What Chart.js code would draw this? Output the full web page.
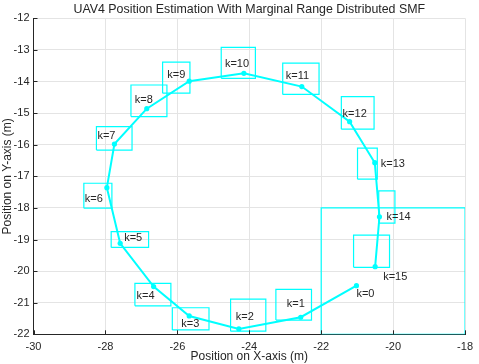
<!DOCTYPE html>
<html>
<head>
<meta charset="utf-8">
<script src="https://cdn.jsdelivr.net/npm/chart.js@4.4.0/dist/chart.umd.min.js"></script>
<style>
  html, body { margin: 0; padding: 0; background: #fff; }
  #wrap { width: 479px; height: 364px; }
</style>
</head>
<body>
<div id="wrap"><canvas id="c"></canvas></div>
<script>
// estimated positions for each step k = 0..15
const steps = [0, 1, 2, 3, 4, 5, 6, 7, 8, 9, 10, 11, 12, 13, 14, 15];
const posX = [-21.02, -22.57, -24.29, -25.67, -26.66, -27.59, -27.96, -27.75, -26.85, -25.67, -24.15, -22.54, -21.21, -20.51, -20.38, -20.50];
const posY = [-20.46, -21.46, -21.83, -21.42, -20.49, -19.12, -17.36, -15.98, -14.86, -13.99, -13.74, -14.16, -15.27, -16.57, -18.28, -19.86];

// range boxes around each estimate
const boxLeft   = [-22, -23.26, -24.52, -26.14, -27.18, -27.84, -28.60, -28.25, -27.29, -26.41, -24.78, -23.07, -21.44, -20.99, -20.40, -21.10];
const boxRight  = [-18, -22.27, -23.54, -25.12, -26.18, -26.80, -27.82, -27.26, -26.29, -25.65, -23.83, -22.06, -20.53, -20.44, -19.95, -20.10];
const boxTop    = [-18, -20.58, -20.89, -21.16, -20.39, -18.75, -17.22, -15.43, -14.11, -13.39, -12.92, -13.42, -14.48, -16.11, -17.46, -18.86];
const boxBottom = [-22, -21.55, -21.90, -21.86, -21.10, -19.25, -18.01, -16.17, -15.11, -14.37, -13.90, -14.41, -15.51, -17.09, -18.48, -19.88];

const xTicks = [-30, -28, -26, -24, -22, -20, -18];
const yTicks = [-22, -21, -20, -19, -18, -17, -16, -15, -14, -13, -12];

const titleText = "UAV4 Position Estimation With Marginal Range Distributed SMF";

// where each "k=.." label sits relative to its point (px: left edge, middle)
const labelOffsets = [[0, 8], [-14, -13], [-3, -12], [-8, 8], [-17, 9], [4, -5], [-22, 11], [-17, -8],
  [-12, -9], [-22, -6], [-19, -9], [-16, -11], [-7, -8], [6, 1], [7, 0], [8, 10]];

const CYAN = "rgb(0,255,255)";
const INK = "#262626";
const FONT = "'Liberation Sans', Arial, sans-serif";

const datasets = [];
// boxes first so the track sits on top
steps.forEach((k, i) => {
  datasets.push({
    data: [
      { x: boxLeft[i], y: boxBottom[i] },
      { x: boxRight[i], y: boxBottom[i] },
      { x: boxRight[i], y: boxTop[i] },
      { x: boxLeft[i], y: boxTop[i] },
      { x: boxLeft[i], y: boxBottom[i] },
    ],
    showLine: true,
    borderColor: CYAN,
    borderWidth: 1.2,
    pointRadius: 0,
    fill: false,
    order: 2,
  });
});
datasets.push({
  label: "track",
  data: steps.map((k, i) => ({ x: posX[i], y: posY[i] })),
  showLine: true,
  borderColor: CYAN,
  backgroundColor: CYAN,
  borderWidth: 2,
  pointRadius: 2.6,
  pointBorderWidth: 0,
  order: 1,
});

// title over the plot box, inward tick marks, k labels
const extras = {
  id: "extras",
  afterDraw(chart) {
    const { ctx, chartArea: a, scales: { x, y } } = chart;
    ctx.save();
    ctx.strokeStyle = INK;
    ctx.lineWidth = 1;
    ctx.beginPath();
    xTicks.forEach((v) => {
      const px = Math.round(x.getPixelForValue(v)) + 0.5;
      ctx.moveTo(px, a.bottom);
      ctx.lineTo(px, a.bottom - 4);
    });
    yTicks.forEach((v) => {
      const py = Math.round(y.getPixelForValue(v)) + 0.5;
      ctx.moveTo(a.left, py);
      ctx.lineTo(a.left + 4, py);
    });
    ctx.stroke();

    ctx.fillStyle = INK;
    ctx.textBaseline = "middle";
    ctx.textAlign = "center";
    ctx.font = "12.4px " + FONT;
    ctx.fillText(titleText, (a.left + a.right) / 2, 10);

    ctx.font = "11px " + FONT;
    ctx.textAlign = "left";
    steps.forEach((k, i) => {
      const px = x.getPixelForValue(posX[i]);
      const py = y.getPixelForValue(posY[i]);
      ctx.fillText("k=" + k, px + labelOffsets[i][0], py + labelOffsets[i][1]);
    });
    ctx.restore();
  },
};

new Chart(document.getElementById("c"), {
  type: "scatter",
  data: { datasets },
  options: {
    responsive: true,
    maintainAspectRatio: false,
    animation: false,
    layout: { padding: { left: 0, right: 11.3, top: 18.3, bottom: 0 } },
    plugins: {
      legend: { display: false },
      tooltip: { enabled: false },
      title: { display: false },
    },
    scales: {
      x: {
        type: "linear",
        min: -30,
        max: -18,
        afterBuildTicks: (s) => { s.ticks = xTicks.map((v) => ({ value: v })); },
        afterFit: (s) => { s.height = 29.7; },
        ticks: { color: INK, font: { family: FONT, size: 11 }, padding: 6 },
        grid: { color: "#e4e4e4", drawTicks: false },
        border: { color: INK, width: 1 },
        title: {
          display: true,
          text: "Position on X-axis (m)",
          color: INK,
          font: { family: FONT, size: 12 },
          padding: 0,
        },
      },
      y: {
        type: "linear",
        min: -22,
        max: -12,
        afterBuildTicks: (s) => { s.ticks = yTicks.map((v) => ({ value: v })); },
        afterFit: (s) => { s.width = 33.5; },
        ticks: { color: INK, font: { family: FONT, size: 11 }, padding: 4 },
        grid: { color: "#e4e4e4", drawTicks: false },
        border: { color: INK, width: 1 },
        title: {
          display: true,
          text: "Position on Y-axis (m)",
          color: INK,
          font: { family: FONT, size: 12 },
          padding: 0,
        },
      },
    },
  },
  plugins: [extras],
});
</script>
</body>
</html>
